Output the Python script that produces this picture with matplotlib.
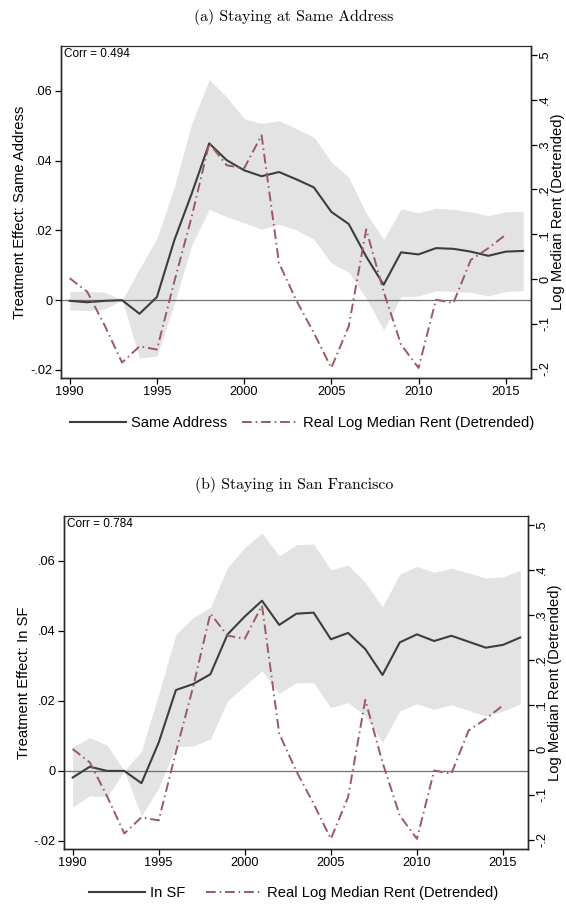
import numpy as np
import matplotlib
matplotlib.use('Agg')
import matplotlib.pyplot as plt
from matplotlib.lines import Line2D

plt.rcParams['font.family'] = ['Liberation Sans', 'DejaVu Sans']

years = np.arange(1990, 2017)
rent_years = np.arange(1990, 2016)

# real log median rent, detrended (right axis) - same series in both panels
rent = [0.002, -0.028, -0.103, -0.186, -0.150, -0.157, -0.005, 0.140, 0.303, 0.254,
        0.247, 0.321, 0.036, -0.048, -0.120, -0.198, -0.105, 0.111, -0.028, -0.146,
        -0.198, -0.046, -0.053, 0.043, 0.069, 0.099]

# (a) staying at same address: point estimate and 95% CI
same = [-0.0002, -0.0006, -0.0002, 0.0, -0.0039, 0.0009, 0.0172, 0.0306, 0.0449, 0.0401,
        0.0372, 0.0355, 0.0367, 0.0346, 0.0323, 0.0253, 0.0218, 0.0125, 0.0044, 0.0137,
        0.0131, 0.0149, 0.0147, 0.0139, 0.0127, 0.0139, 0.0141]
same_hi = [0.0025, 0.0025, 0.0023, 0.0, 0.0090, 0.0177, 0.0325, 0.0506, 0.0632, 0.0582,
           0.0520, 0.0506, 0.0514, 0.0491, 0.0467, 0.0396, 0.0351, 0.0249, 0.0174, 0.0261,
           0.0250, 0.0263, 0.0260, 0.0253, 0.0242, 0.0253, 0.0255]
same_lo = [-0.0028, -0.0030, -0.0025, 0.0, -0.0166, -0.0160, -0.0010, 0.0158, 0.0260, 0.0239,
           0.0222, 0.0203, 0.0217, 0.0201, 0.0174, 0.0107, 0.0080, 0.0005, -0.0085, 0.0010,
           0.0012, 0.0027, 0.0025, 0.0022, 0.0012, 0.0025, 0.0027]

# (b) staying in San Francisco
sf = [-0.0019, 0.0012, 0.0, 0.0, -0.0035, 0.0081, 0.0231, 0.0248, 0.0276, 0.0390,
      0.0441, 0.0486, 0.0417, 0.0449, 0.0452, 0.0376, 0.0394, 0.0348, 0.0274, 0.0367,
      0.0390, 0.0371, 0.0386, 0.0369, 0.0352, 0.0360, 0.0381]
sf_hi = [0.0068, 0.0095, 0.0074, 0.0, 0.0057, 0.0219, 0.0390, 0.0438, 0.0467, 0.0581,
         0.0638, 0.0679, 0.0614, 0.0646, 0.0648, 0.0574, 0.0588, 0.0538, 0.0469, 0.0562,
         0.0584, 0.0567, 0.0579, 0.0565, 0.0551, 0.0554, 0.0573]
sf_lo = [-0.0103, -0.0071, -0.0074, 0.0, -0.0129, -0.0048, 0.0069, 0.0071, 0.0091, 0.0200,
         0.0243, 0.0286, 0.0221, 0.0252, 0.0252, 0.0181, 0.0195, 0.0157, 0.0081, 0.0171,
         0.0192, 0.0176, 0.0189, 0.0173, 0.0157, 0.0171, 0.0191]

left_ticks = [-0.02, 0, 0.02, 0.04, 0.06]
left_labels = ['-.02', '0', '.02', '.04', '.06']
right_ticks = [-0.2, -0.1, 0, 0.1, 0.2, 0.3, 0.4, 0.5]
right_labels = ['-.2', '-.1', '0', '.1', '.2', '.3', '.4', '.5']
x_ticks = [1990, 1995, 2000, 2005, 2010, 2015]

LINE = '#3d3d3d'
RENT = '#9a5a60'
BAND = '#e3e3e3'
W, H = 566, 905


def panel(rect, est, lo, hi, corr, ylab, title, title_y, leg_lab, leg_x, leg_y, colsp):
    x0, y0, x1, y1 = rect
    ax = fig.add_axes([x0 / W, 1 - y1 / H, (x1 - x0) / W, (y1 - y0) / H])
    ax.fill_between(years, lo, hi, color=BAND, lw=0, zorder=1)
    ax.axhline(0, color='#707070', lw=0.9, zorder=2)
    ax.plot(years, est, color=LINE, lw=1.5, zorder=3)
    ax.set_xlim(1989.5, 2016.45)
    ax.set_ylim(-0.0223, 0.0728)
    ax.set_xticks(x_ticks)
    ax.set_yticks(left_ticks)
    ax.set_yticklabels(left_labels)
    ax.tick_params(direction='out', length=4, width=0.9, labelsize=9.2, pad=2)
    ax.set_ylabel(ylab, fontsize=10.6)
    ax.yaxis.set_label_coords(-0.072, 0.5)
    ax.text(0.007, 0.993, corr, transform=ax.transAxes, fontsize=8.5, va='top', ha='left')

    ax2 = ax.twinx()
    ax2.plot(rent_years, rent, color=RENT, lw=1.4, ls=(0, (5, 2, 0.8, 2)), zorder=4)
    ax2.set_ylim(-0.2205, 0.52)
    ax2.set_yticks(right_ticks)
    ax2.set_yticklabels(right_labels, rotation=90, va='center')
    ax2.tick_params(direction='out', length=4, width=0.9, labelsize=9.2, pad=2)
    ax2.set_ylabel('Log Median Rent (Detrended)', fontsize=10.6)
    ax2.yaxis.set_label_coords(1.043, 0.5)

    for a in (ax, ax2):
        for s in a.spines.values():
            s.set_color('#2a2a2a')
            s.set_linewidth(1.0)
        a.spines['top'].set_linewidth(0.8)

    fig.text(294 / W, 1 - title_y / H, title, family='cmr10', fontsize=11.4,
             ha='center', va='center')

    handles = [Line2D([], [], color=LINE, lw=1.5),
               Line2D([], [], color=RENT, lw=1.4, ls=(0, (5, 2, 0.8, 2)))]
    fig.legend(handles, [leg_lab, 'Real Log Median Rent (Detrended)'], loc='center',
               bbox_to_anchor=(leg_x / W, 1 - leg_y / H), ncol=2, frameon=False,
               fontsize=10.6, handlelength=3.8, handletextpad=0.35, columnspacing=colsp)


fig = plt.figure(figsize=(W / 100, H / 100), dpi=100)

panel((61, 46, 531, 378), same, same_lo, same_hi, 'Corr = 0.494',
      'Treatment Effect: Same Address', '(a) Staying at Same Address', 17,
      'Same Address', 302, 423, 1.0)
panel((64, 516, 528, 849), sf, sf_lo, sf_hi, 'Corr = 0.784',
      'Treatment Effect: In SF', '(b) Staying in San Francisco', 485,
      'In SF', 294, 893, 1.4)

fig.savefig('out.png', dpi=100)
